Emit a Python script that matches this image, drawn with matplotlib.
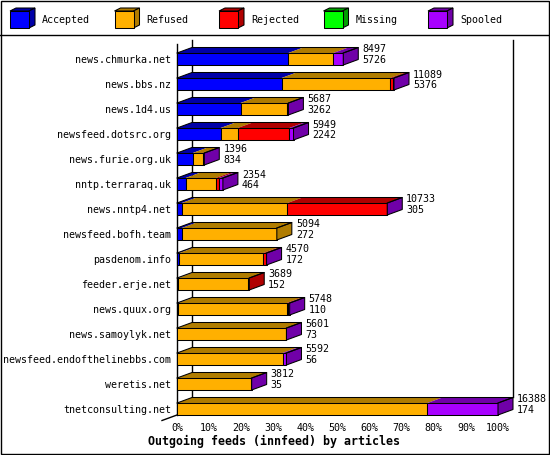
import matplotlib
matplotlib.use("Agg")
import matplotlib.pyplot as plt
from matplotlib.patches import Polygon, Rectangle

hosts = ["news.chmurka.net", "news.bbs.nz", "news.1d4.us", "newsfeed.dotsrc.org",
         "news.furie.org.uk", "nntp.terraraq.uk", "news.nntp4.net", "newsfeed.bofh.team",
         "pasdenom.info", "feeder.erje.net", "news.quux.org", "news.samoylyk.net",
         "newsfeed.endofthelinebbs.com", "weretis.net", "tnetconsulting.net"]

# segment lengths in % of the largest feed
accepted = [34.7, 32.6, 19.8, 13.6, 4.9, 2.7, 1.5, 1.5, 0.7, 0.4, 0.4, 0.0, 0.0, 0.0, 0.0]
refused = [14.0, 33.8, 14.6, 5.3, 3.3, 9.4, 32.9, 29.6, 26.2, 21.8, 33.8, 33.9, 32.9, 23.0, 78.0]
rejected = [0.0, 0.8, 0.0, 16.1, 0.0, 1.0, 30.9, 0.0, 0.7, 0.3, 0.5, 0.0, 0.0, 0.0, 0.0]
missing = [0.0] * 15
spooled = [3.1, 0.4, 0.3, 1.3, 0.3, 1.2, 0.2, 0.0, 0.3, 0.0, 0.4, 0.2, 1.2, 0.26, 22.0]

totals = [8497, 11089, 5687, 5949, 1396, 2354, 10733, 5094, 4570, 3689, 5748, 5601, 5592, 3812, 16388]
second = [5726, 5376, 3262, 2242, 834, 464, 305, 272, 172, 152, 110, 73, 56, 35, 174]

cats = ["Accepted", "Refused", "Rejected", "Missing", "Spooled"]
front = ["#0000ff", "#ffb000", "#ff0000", "#00ff00", "#a800ff"]
dark = ["#0000a8", "#b07c00", "#b00000", "#00a000", "#7000a8"]

W, H = 550, 455
mono = "DejaVu Sans Mono"
lw = 0.75

fig = plt.figure(figsize=(W / 100, H / 100), dpi=100)
fig.patch.set_facecolor("white")

# background axes in pixel units: border, legend, title
bg = fig.add_axes([0, 0, 1, 1])
bg.set_xlim(0, W)
bg.set_ylim(H, 0)
bg.axis("off")
bg.add_patch(Rectangle((0.5, 0.5), W - 2, H - 1.5, fill=False, ec="black", lw=1.0))
bg.plot([0, W], [35, 35], color="black", lw=1.0)
for i, name in enumerate(cats):
    x0 = 10 + i * 104.5
    y0, y1 = 11, 28
    bw, d, up = 19, 6, 3
    bg.add_patch(Polygon([(x0, y0), (x0 + bw, y0), (x0 + bw + d, y0 - up), (x0 + d, y0 - up)],
                         fc=dark[i], ec="black", lw=lw))
    bg.add_patch(Polygon([(x0 + bw, y0), (x0 + bw + d, y0 - up), (x0 + bw + d, y1 - up), (x0 + bw, y1)],
                         fc=dark[i], ec="black", lw=lw))
    bg.add_patch(Rectangle((x0, y0), bw, y1 - y0, fc=front[i], ec="black", lw=lw))
    bg.text(x0 + 32, 20, name, fontsize=7.2, family=mono, va="center", ha="left")
bg.text(W / 2 - 1, 441, "Outgoing feeds (innfeed) by articles", fontsize=8.4,
        family=mono, weight="bold", ha="center", va="center")

# main chart axes: 0..100% maps to px 177..498
ax = fig.add_axes([177 / W, 40 / H, 321 / W, 371 / H])
ax.patch.set_alpha(0)
ax.set_xlim(0, 100)
ax.set_ylim(14.24, -0.6)
for s in ["top", "right", "bottom"]:
    ax.spines[s].set_visible(False)
ax.spines["left"].set_linewidth(1.0)

px = 100 / 321.0
dx = 15 * px
dy = 5.5 / 25.0
h = 12 / 25.0

ax.set_xticks(range(0, 101, 10))
ax.set_xticklabels(["%d%%" % v for v in range(0, 101, 10)], family=mono, fontsize=7.2)
ax.set_yticks(range(len(hosts)))
ax.set_yticklabels(hosts, family=mono, fontsize=7.2)
ax.tick_params(axis="x", length=0, pad=6)
ax.tick_params(axis="y", length=0, pad=4)

# back walls
ytop = -0.6 - 4 / 25.0
ybot = len(hosts) - 1 - h / 2 - dy
ax.plot([dx, dx], [ytop, ybot], color="black", lw=1.0, zorder=1, clip_on=False)
ax.plot([100 + dx, 100 + dx], [ytop, ybot], color="black", lw=1.0, zorder=1, clip_on=False)
ax.plot([0, -dx], [14.24, 14.24 + dy], color="black", lw=1.0, zorder=1, clip_on=False)

series = [accepted, refused, rejected, missing, spooled]
for r in range(len(hosts)):
    top = r - h / 2
    bot = r + h / 2
    x = 0.0
    last = 0
    for k, vals in enumerate(series):
        v = vals[r]
        if v <= 0:
            continue
        ax.add_patch(Polygon([(x, top), (x + v, top), (x + v + dx, top - dy), (x + dx, top - dy)],
                             fc=dark[k], ec="none", zorder=3, clip_on=False))
        ax.add_patch(Rectangle((x, top), v, h, fc=front[k], ec="black", lw=lw, zorder=4, clip_on=False))
        x += v
        last = k
    ax.add_patch(Polygon([(x, top), (x + dx, top - dy), (x + dx, bot - dy), (x, bot)],
                         fc=dark[last], ec="black", lw=lw, zorder=4, clip_on=False))
    ax.plot([0, dx, x + dx, x], [top, top - dy, top - dy, top], color="black", lw=lw,
            zorder=5, clip_on=False)
    tx = x + dx + 4 * px
    ax.text(tx, r - 0.38, str(totals[r]), fontsize=7.2, family=mono, va="center", ha="left",
            clip_on=False)
    ax.text(tx, r + 0.05, str(second[r]), fontsize=7.2, family=mono, va="center", ha="left",
            clip_on=False)

fig.savefig("out.png", dpi=100)
